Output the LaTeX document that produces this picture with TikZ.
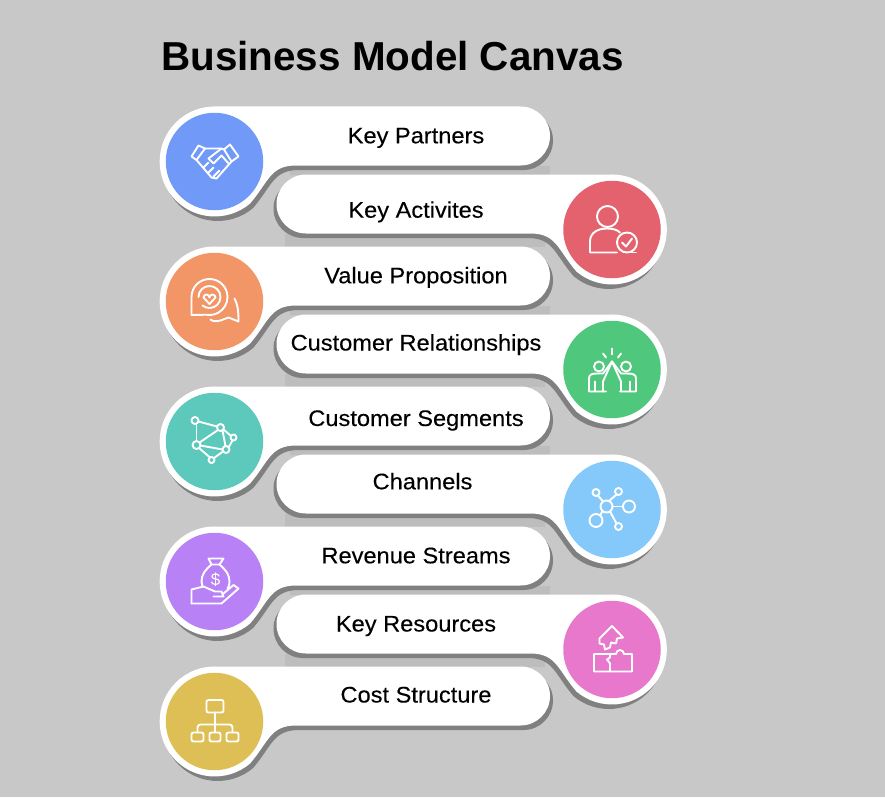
\documentclass[tikz,border=0pt]{standalone}
\usepackage{fontspec}
\setmainfont{Liberation Sans}
\usetikzlibrary{positioning}
\usetikzlibrary{calc}

\newcommand{\pillpath}{(0,-55) -- (306,-55) arc[start angle=-90,end angle=90,radius=29.5] -- (81.5,4) .. controls (55.5,4) and (54.5,20) .. (35.5,42.1) arc[start angle=50,end angle=270,radius=55] -- cycle}

\begin{document}
\begin{tikzpicture}[
        x=1pt, y=1pt, yscale=-1,
        pillshadow/.style={fill=shadowgrey},
        pillbody/.style={fill=white},
        disc/.style={circle, minimum size=97.5pt, inner sep=0pt},
        pilltext/.style={font=\fontsize{22.5}{24}\selectfont\addfontfeature{FakeBold=0.25,FakeStretch=1.05}, text=black, inner sep=0pt, anchor=base},
        icon/.style={draw=white, line width=1.9pt, line join=round, line cap=round},
    ]
        \definecolor{bggrey}{RGB}{200,200,200}
        \definecolor{shadowgrey}{RGB}{128,128,128}
        \definecolor{halogrey}{RGB}{189,189,189}
        \definecolor{partnersfill}{RGB}{112,153,248}
        \definecolor{activitiesfill}{RGB}{228,98,110}
        \definecolor{valuefill}{RGB}{242,150,104}
        \definecolor{relationsfill}{RGB}{79,199,125}
        \definecolor{segmentsfill}{RGB}{92,201,188}
        \definecolor{channelsfill}{RGB}{132,201,250}
        \definecolor{revenuefill}{RGB}{184,129,245}
        \definecolor{resourcesfill}{RGB}{232,120,203}
        \definecolor{costfill}{RGB}{221,191,85}

        \fill[bggrey] (0,0) rectangle (885,797);
        \useasboundingbox (0,0) rectangle (885,797);

        \node[font=\fontsize{40.4}{44}\selectfont\bfseries, text=black, inner sep=0pt, anchor=base west] (title) at (161,70.7) {Business Model Canvas};

        % Light bands between the pills
        \foreach \cy in {161.5,301.5,441.5,581.5} {
            \fill[halogrey] (290,\cy+4) rectangle (550,\cy+13);
            \fill[halogrey] (285,\cy+72) rectangle (545,\cy+85);
        }

        % Left pills
        \foreach \cy in {161.5,301.5,441.5,581.5,721.5} {
            \begin{scope}[shift={(214.5,\cy)}]
            \fill[pillshadow] [shift={(3,4.5)}] \pillpath;
            \fill[pillbody] \pillpath;
            \end{scope}
        }

        % Right pills
        \foreach \cy in {229.5,369.5,509.5,649.5} {
            \begin{scope}[shift={(612,\cy)}, xscale=-1]
            \fill[pillshadow] [shift={(3,4.5)}] \pillpath;
            \fill[pillbody] \pillpath;
            \end{scope}
        }

        % Discs
        \node[disc, fill=partnersfill] (partners) at (214.5,161.5) {};
        \node[disc, fill=activitiesfill] (activities) at (612,229.5) {};
        \node[disc, fill=valuefill] (value) at (214.5,301.5) {};
        \node[disc, fill=relationsfill] (relations) at (612,369.5) {};
        \node[disc, fill=segmentsfill] (segments) at (214.5,441.5) {};
        \node[disc, fill=channelsfill] (channels) at (612,509.5) {};
        \node[disc, fill=revenuefill] (revenue) at (214.5,581.5) {};
        \node[disc, fill=resourcesfill] (resources) at (612,649.5) {};
        \node[disc, fill=costfill] (cost) at (214.5,721.5) {};

        % Labels
        \node[pilltext] (partnerstext) at (416,143.3) {Key Partners};
        \node[pilltext] (activitiestext) at (416,217.7) {Key Activites};
        \node[pilltext] (valuetext) at (416,283.3) {Value Proposition};
        \node[pilltext] (relationstext) at (416,350.5) {Customer Relationships};
        \node[pilltext] (segmentstext) at (416,426) {Customer Segments};
        \node[pilltext] (channelstext) at (422.5,489.3) {Channels};
        \node[pilltext] (revenuetext) at (416,563.3) {Revenue Streams};
        \node[pilltext] (resourcestext) at (416,631.5) {Key Resources};
        \node[pilltext] (costtext) at (416,702.5) {Cost Structure};

        % Handshake
        \begin{scope}[shift={(214.5,161.5)}]
        \draw[icon] (-16,-16) -- (-23,-5) -- (-18,-1.5) -- (-9.5,-13) -- cycle;
        \draw[icon] (15.5,-17) -- (24,-5) -- (17,0) -- (9.5,-12) -- cycle;
        \draw[icon] (-18,-1.5) -- (-3,16) -- (2,17) -- (17,0);
        \draw[icon] (-9.5,-13) -- (-1,-13) -- (7,-13) -- (9.5,-12);
        \draw[icon] (7,-13) -- (-6,-3) -- (-1,2) -- (7,-6) -- (15,3);
        \draw[icon] (-11,6) -- (-6,1);
        \draw[icon] (-6,11) -- (-1,6);
        \draw[icon] (-1,15) -- (5,9);
        \end{scope}

        % Chat bubbles
        \begin{scope}[shift={(214.5,301.5)}]
        \draw[icon] (-23,13.5) -- (-23,-4.5) arc[start angle=180,end angle=460,radius=18] -- cycle;
        \draw[icon] (-16,-4.5) arc[start angle=180,end angle=490,radius=11];
        \draw[icon] (-5,2.5) -- (-11,-4) arc[start angle=180,end angle=360,radius=3] arc[start angle=180,end angle=360,radius=3] -- cycle;
        \draw[icon] (20,-3) .. controls (23,3) and (24,8) .. (24,20) -- (14,16) -- (6,19) .. controls (2,20) and (-2,20) .. (-4,18);
        \end{scope}

        % Person with badge
        \begin{scope}[shift={(612,229.5)}]
        \draw[icon] (-4.5,-13) circle[radius=10.5];
        \draw[icon] (5,23) -- (-22,23) -- (-22,12) .. controls (-22,3) and (-14,-1) .. (-5,-1) .. controls (0,-1) and (5,0) .. (8,3);
        \draw[icon] (15,13) circle[radius=10];
        \draw[icon] (10,13) -- (14,17) -- (20,9);
        \draw[icon] (24,23) -- (12,23);
        \end{scope}

        % High five
        \begin{scope}[shift={(612,369.5)}]
        \draw[icon] (-13,-3) circle[radius=5];
        \draw[icon] (14,-3) circle[radius=5];
        \draw[icon] (-6,22) -- (-23,22) -- (-23,9) .. controls (-23,5) and (-20,4) .. (-15,4) -- (-9,4) -- (0,-8) -- (9,4) -- (15,4) .. controls (21,4) and (24,5) .. (24,9) -- (24,22) -- (8,22);
        \draw[icon] (0,-8) -- (-9,12) -- (-9,22);
        \draw[icon] (0,-8) -- (9,12) -- (9,22);
        \draw[icon] (-17,12) -- (-17,22);
        \draw[icon] (18,12) -- (18,22);
        \draw[icon] (0,-21) -- (0,-15);
        \draw[icon] (-9,-16) -- (-6,-12);
        \draw[icon] (9,-16) -- (6,-12);
        \end{scope}

        % Network
        \begin{scope}[shift={(214.5,441.5)}]
        \foreach \ax/\ay/\ar in {-19.5/-21/3.5, 6/-14/3.5, 19/-4/3, 11.5/8/3.5, -3/18.5/3, -18/3.5/4} {
            \draw[icon] (\ax,\ay) circle[radius=\ar];
        }
        \draw[icon] (-16,-20) -- (2.5,-15);
        \draw[icon] (-18,-17.5) -- (-18,-0.5);
        \draw[icon] (9,-12) -- (16,-6);
        \draw[icon] (18,-1) -- (14,6);
        \draw[icon] (8,-11) -- (11,4.5);
        \draw[icon] (3.5,-11.5) -- (-15,1);
        \draw[icon] (-14,4) -- (8,8);
        \draw[icon] (-15.5,6.5) -- (-4.5,16);
        \draw[icon] (8.5,10) -- (-0.5,16.5);
        \end{scope}

        % Blue network
        \begin{scope}[shift={(612,509.5)}]
        \foreach \ax/\ay/\ar in {-5.5/-3/6, -16/-17/3.5, 6.5/-18/3.5, 17/-3/6, -16/11/6.5, 6.5/17/3.5} {
            \draw[icon] (\ax,\ay) circle[radius=\ar];
        }
        \draw[icon] (-9,-8) -- (-14,-14);
        \draw[icon] (-3,-8.5) -- (4.5,-15);
        \draw[icon] (0.5,-3) -- (11,-3);
        \draw[icon] (-9.5,1.5) -- (-12,6);
        \draw[icon] (-2,2) -- (4.5,14);
        \end{scope}

        % Money bag
        \begin{scope}[shift={(214.5,581.5)}]
        \draw[icon] (-6,-23) -- (9,-23) -- (5,-17) -- (-3,-17) -- cycle;
        \draw[icon] (-3,-17) .. controls (-9,-12) and (-13,-7) .. (-13,0) .. controls (-13,2) and (-13,3) .. (-12,5);
        \draw[icon] (5,-17) .. controls (11,-12) and (15,-7) .. (15,0) .. controls (15,3) and (14.5,5) .. (13,7);
        \node[font=\fontsize{17}{18}\selectfont, text=white, inner sep=0pt] (dollar) at (1,-2) {\$};
        \draw[icon] (-23,22) -- (-23,8) -- (-11,5) -- (0.5,10) -- (7,10) -- (9,15) -- (-1,15);
        \draw[icon] (9,12) -- (19,3.5) -- (24,7) -- (7,22) -- (-23,22);
        \end{scope}

        % Puzzle
        \begin{scope}[shift={(612,649.5)}]
        \draw[icon] (-12.5,-11) -- (0,-23.5) -- (11,-12) -- (5,-11) -- (4,-6) -- (-1,-7) -- (-2,-2) -- (-7,0) -- (-8,-5) -- (-12.5,-6) -- cycle;
        \draw[icon] (-18,4.5) -- (-2,4.5) -- (-2,8) -- (-5,10) -- (-2,14) -- (-2,22) -- (-18,22) -- cycle;
        \draw[icon] (-2,4.5) -- (4,4.5) arc[start angle=180,end angle=360,radius=4] -- (20,4.5) -- (20,22) -- (-2,22);
        \end{scope}

        % Org chart
        \begin{scope}[shift={(214.5,721.5)}]
        \draw[icon, rounded corners=2pt] (-8,-21.5) rectangle (9,-9);
        \draw[icon, rounded corners=2pt] (-23,11) rectangle (-11,20);
        \draw[icon, rounded corners=2pt] (-5,11) rectangle (6,20);
        \draw[icon, rounded corners=2pt] (12,11) rectangle (24,20);
        \draw[icon] (0.5,-9) -- (0.5,11);
        \draw[icon, rounded corners=3pt] (-17,11) -- (-17,3) -- (18,3) -- (18,11);
        \end{scope}
    \end{tikzpicture}
\end{document}
